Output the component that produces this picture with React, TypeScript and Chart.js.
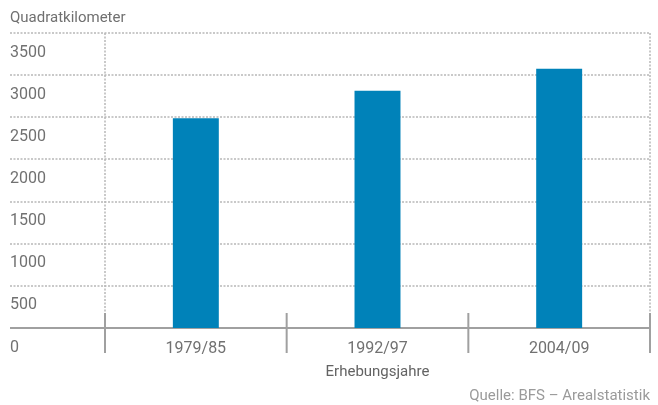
import React, { useEffect, useRef } from "react";
import { Chart, registerables } from "chart.js";

Chart.register(...registerables);

const categories = ["1979/85", "1992/97", "2004/09"];
const values = [2490, 2815, 3075];
const yTicks = [0, 500, 1000, 1500, 2000, 2500, 3000, 3500];
const yTitle = "Quadratkilometer";
const xTitle = "Erhebungsjahre";
const sourceText = "Quelle: BFS – Arealstatistik";

const FONT = "Roboto, 'Noto Sans', sans-serif";

const decorPlugin = {
  id: "decor",
  beforeDatasetsDraw(chart: any) {
    const { ctx, chartArea, scales } = chart;
    const y = scales.y;
    const x = scales.x;
    const left = 10;
    ctx.save();
    yTicks.forEach((v) => {
      const py = Math.round(y.getPixelForValue(v));
      ctx.beginPath();
      if (v === 0) {
        ctx.setLineDash([]);
        ctx.strokeStyle = "#a0a0a0";
        ctx.lineWidth = 2;
      } else {
        ctx.setLineDash([2, 1.5]);
        ctx.strokeStyle = "#b8b8b8";
        ctx.lineWidth = 1.5;
      }
      ctx.moveTo(left, py);
      ctx.lineTo(chartArea.right, py);
      ctx.stroke();
    });
    const zeroY = y.getPixelForValue(0);
    const topY = y.getPixelForValue(yTicks[yTicks.length - 1]);
    ctx.setLineDash([2, 1.5]);
    ctx.strokeStyle = "#b8b8b8";
    ctx.lineWidth = 1.5;
    [chartArea.left, chartArea.right].forEach((px) => {
      ctx.beginPath();
      ctx.moveTo(px, topY);
      ctx.lineTo(px, zeroY - 16);
      ctx.stroke();
    });
    ctx.setLineDash([]);
    ctx.strokeStyle = "#a0a0a0";
    ctx.lineWidth = 2;
    const half = (x.getPixelForValue(1) - x.getPixelForValue(0)) / 2;
    const bounds: number[] = [];
    categories.forEach((_, i) => {
      const c = x.getPixelForValue(i);
      if (i === 0) bounds.push(c - half);
      bounds.push(c + half);
    });
    bounds.forEach((px) => {
      ctx.beginPath();
      ctx.moveTo(px, zeroY - 15);
      ctx.lineTo(px, zeroY + 25);
      ctx.stroke();
    });
    ctx.restore();
  },
  afterDraw(chart: any) {
    const { ctx, chartArea, scales } = chart;
    const y = scales.y;
    const x = scales.x;
    const zeroY = y.getPixelForValue(0);
    ctx.save();
    ctx.textBaseline = "alphabetic";
    ctx.font = `15px ${FONT}`;
    ctx.fillStyle = "#707070";
    ctx.textAlign = "left";
    ctx.fillText(yTitle, 10, 22);
    ctx.font = `16px ${FONT}`;
    ctx.fillStyle = "#717171";
    yTicks.forEach((v) => {
      ctx.fillText(String(v), 10, y.getPixelForValue(v) + 23.5);
    });
    ctx.textAlign = "center";
    categories.forEach((c, i) => {
      ctx.fillText(c, x.getPixelForValue(i), zeroY + 24.5);
    });
    ctx.font = `15px ${FONT}`;
    ctx.fillStyle = "#636363";
    ctx.fillText(xTitle, (chartArea.left + chartArea.right) / 2, 376);
    ctx.fillStyle = "#9a9a9a";
    ctx.textAlign = "right";
    ctx.fillText(sourceText, chartArea.right, 400);
    ctx.restore();
  },
};

export default function App() {
  const ref = useRef<HTMLCanvasElement>(null);
  useEffect(() => {
    if (!ref.current) return;
    const chart = new Chart(ref.current, {
      type: "bar",
      data: {
        labels: categories,
        datasets: [
          {
            data: values,
            backgroundColor: "#0082b9",
            borderWidth: 0,
            categoryPercentage: 1,
            barPercentage: 0.253,
          },
        ],
      },
      options: {
        responsive: false,
        animation: false,
        layout: { padding: { left: 10, right: 8, top: 33, bottom: 0 } },
        plugins: {
          legend: { display: false },
          tooltip: { enabled: false },
          title: { display: false },
        },
        scales: {
          x: {
            ticks: { display: false },
            grid: { display: false },
            border: { display: false },
            afterFit: (s: any) => {
              s.height = 77;
            },
          },
          y: {
            min: 0,
            max: 3500,
            ticks: { display: false, stepSize: 500 },
            grid: { display: false },
            border: { display: false },
            afterFit: (s: any) => {
              s.width = 95;
            },
          },
        },
      },
      plugins: [decorPlugin],
    });
    return () => chart.destroy();
  }, []);
  return (
    <div style={{ position: "fixed", left: 0, top: 0, width: 658, height: 405, background: "#fff" }}>
      <canvas ref={ref} width={658} height={405} style={{ display: "block" }} />
    </div>
  );
}
